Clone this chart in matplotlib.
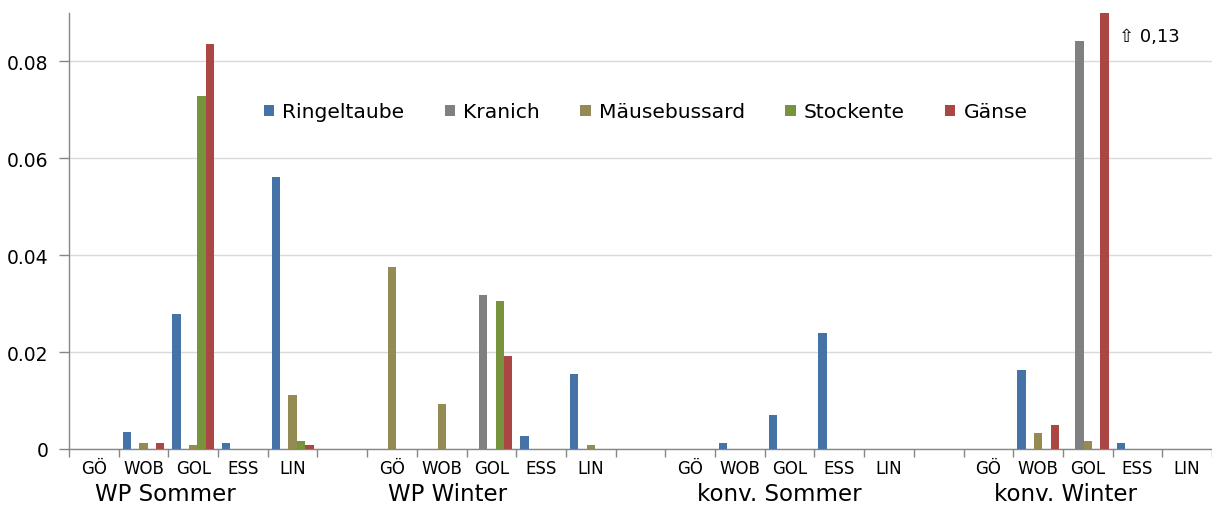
import numpy as np
import matplotlib
matplotlib.use("Agg")
import matplotlib.pyplot as plt
from matplotlib.patches import Patch

# sites within each group, and the four groups
sites = ["GÖ", "WOB", "GOL", "ESS", "LIN"]
groups = ["WP Sommer", "WP Winter", "konv. Sommer", "konv. Winter"]

# values per group, in site order (GÖ, WOB, GOL, ESS, LIN)
ringeltaube = [[0, 0.0035, 0.0278, 0.0012, 0.0561],
               [0, 0, 0, 0.0027, 0.0155],
               [0, 0.0012, 0.0070, 0.0239, 0],
               [0, 0.0163, 0, 0.0012, 0]]
kranich = [[0, 0, 0, 0, 0],
           [0, 0, 0.0318, 0, 0],
           [0, 0, 0, 0, 0],
           [0, 0, 0.0843, 0, 0]]
maeusebussard = [[0, 0.0012, 0.0008, 0, 0.0111],
                 [0.0375, 0.0093, 0, 0, 0.0008],
                 [0, 0, 0, 0, 0],
                 [0, 0.0033, 0.0016, 0, 0]]
stockente = [[0, 0, 0.0728, 0, 0.0016],
             [0, 0, 0.0305, 0, 0],
             [0, 0, 0, 0, 0],
             [0, 0, 0, 0, 0]]
gaense = [[0, 0.0012, 0.0835, 0, 0.0008],
          [0, 0, 0.0192, 0, 0],
          [0, 0, 0, 0, 0],
          [0, 0.0049, 0.13, 0, 0]]

series_names = ["Ringeltaube", "Kranich", "Mäusebussard", "Stockente", "Gänse"]
series_data = [ringeltaube, kranich, maeusebussard, stockente, gaense]
colors = ["#4572A7", "#808080", "#948A54", "#77933C", "#AA4643"]

yticks = [0, 0.02, 0.04, 0.06, 0.08]
ytick_labels = ["0", "0.02", "0.04", "0.06", "0.08"]

fig = plt.figure(figsize=(12.12, 5.06), dpi=100)
ax = fig.add_axes([69 / 1212, 56 / 506, 1 - 69 / 1212, (450 - 14) / 506])

n_slots = len(sites) + 1  # one empty slot between groups
bar_w = 0.168
x_centers = []
x_labels = []
for g in range(len(groups)):
    for j, s in enumerate(sites):
        x_centers.append(g * n_slots + j)
        x_labels.append(s)

for i, (name, data, c) in enumerate(zip(series_names, series_data, colors)):
    vals = np.array(data).ravel()
    ax.bar(np.array(x_centers) + (i - 2) * bar_w, vals, width=bar_w,
           color=c, label=name, zorder=3)

n_cat = len(groups) * n_slots - 1
ax.set_xlim(-0.5, n_cat - 0.5)
ax.set_ylim(0, 0.09)

ax.set_yticks(yticks)
ax.set_yticklabels(ytick_labels, fontsize=13.5)
ax.tick_params(axis="y", length=7, width=1, color="#868686", pad=8)
ax.yaxis.grid(True, color="#d9d9d9", linewidth=1, zorder=0)
ax.set_axisbelow(True)

ax.set_xticks(x_centers)
ax.set_xticklabels(x_labels, fontsize=12)
ax.tick_params(axis="x", which="major", length=0, pad=7)
ax.set_xticks(np.arange(-0.5, n_cat, 1.0), minor=True)
ax.tick_params(axis="x", which="minor", length=6, width=1, color="#868686")

for sp in ["top", "right"]:
    ax.spines[sp].set_visible(False)
for sp in ["left", "bottom"]:
    ax.spines[sp].set_color("#868686")
    ax.spines[sp].set_linewidth(1)

# group labels under the site labels
group_offsets = [1.43, 1.11, 1.79, 1.56]
for g, (name, off) in enumerate(zip(groups, group_offsets)):
    ax.text(g * n_slots + off, -(501 - 450) / 436, name,
            transform=ax.get_xaxis_transform(),
            ha="center", va="baseline", fontsize=16.5)

# note for the clipped bar
ax.text(0.945, 0.947, "⇧ 0,13", transform=ax.transAxes, fontsize=13,
        ha="center", va="center")

handles = [Patch(facecolor=c, label=n) for n, c in zip(series_names, colors)]
fig.legend(handles=handles, loc="center left", bbox_to_anchor=(264 / 1212, 1 - 113 / 506),
           ncol=5, frameon=False, fontsize=14.6, handlelength=0.5, handleheight=0.5,
           handletextpad=0.4, columnspacing=2.0, borderaxespad=0, borderpad=0)

fig.savefig("out.png", dpi=100)
